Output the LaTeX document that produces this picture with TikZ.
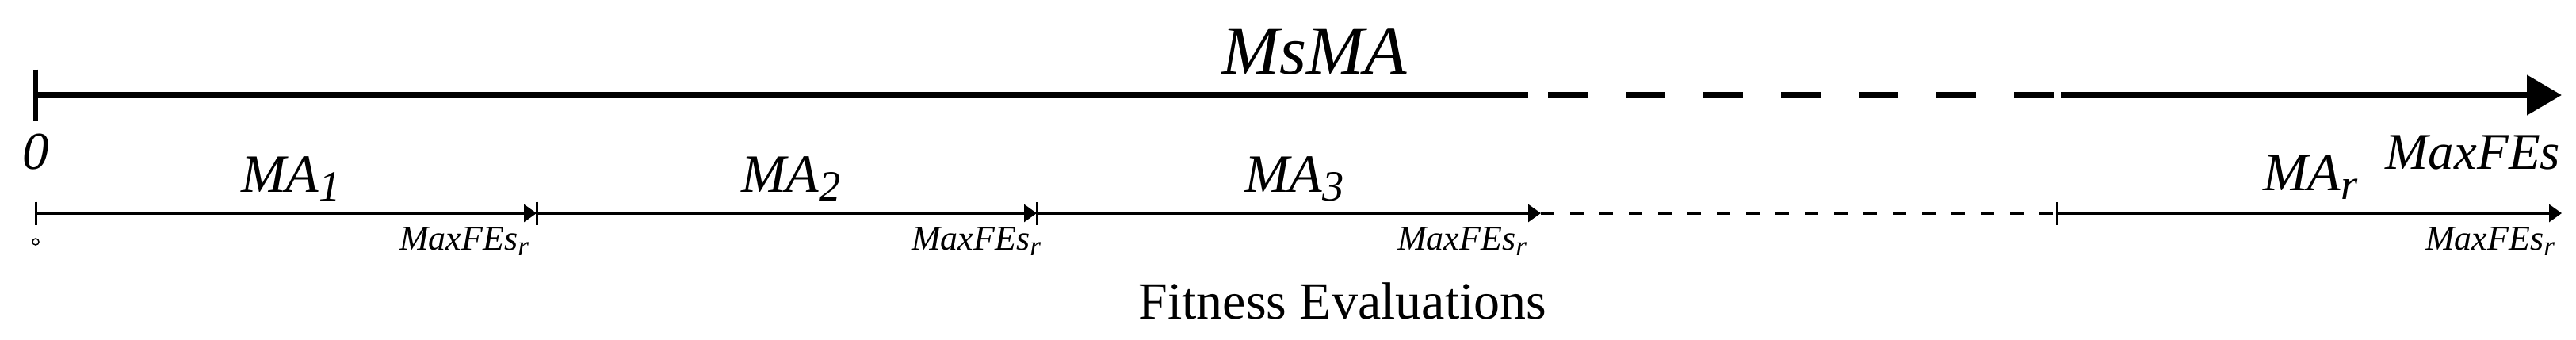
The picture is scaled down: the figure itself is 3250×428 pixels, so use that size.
\documentclass[tikz,border=0pt]{standalone}
\usepackage{fontspec}
\setmainfont{Liberation Serif}
\usetikzlibrary{arrows.meta}
\newcommand\lowsub[1]{\raisebox{-0.17em}{\scalebox{0.8}{#1}}}
\tikzset{
  bigline/.style={line width=1.6pt},
  smallline/.style={line width=0.6pt},
  bigtip/.style={-{Triangle[length=8.8pt,width=9.8pt]}},
  smalltip/.style={-{Triangle[length=3.2pt,width=4.4pt]}},
  lbl/.style={inner sep=0pt, font=\itshape},
}
\begin{document}
\begin{tikzpicture}[x=0.2pt,y=-0.2pt]
\useasboundingbox (0,0) rectangle (3250,428);
% top axis
\coordinate (t0) at (45,120);
\coordinate (t1) at (1928,120);
\coordinate (t2) at (1953,120);
\coordinate (t3) at (2591,120);
\coordinate (t4) at (2600,120);
\coordinate (t5) at (3232,120);
\draw[bigline] (t0) -- (t1);
\draw[bigline, dash pattern=on 10pt off 9.6pt] (t2) -- (t3);
\draw[bigline, bigtip] (t4) -- (t5);
\draw[line width=1.2pt] ([yshift=6.5pt]t0) -- ([yshift=-6.6pt]t0);
% bottom axis
\coordinate (b0) at (45,269);
\coordinate (b1) at (677,269);
\coordinate (b2) at (1308,269);
\coordinate (b3) at (1944,269);
\coordinate (b4) at (2595,269);
\coordinate (b5) at (3232,269);
\draw[smallline, smalltip] (b0) -- (b1);
\draw[smallline, smalltip] (b1) -- (b2);
\draw[smallline, smalltip] (b2) -- (b3);
\draw[smallline, dash pattern=on 3.4pt off 4pt] (b3) -- (b4);
\draw[smallline, smalltip] (b4) -- (b5);
\foreach \p in {b0,b1,b2,b4}
  \draw[smallline] ([yshift=2.9pt]\p) -- ([yshift=-2.9pt]\p);
\draw[line width=0.3pt] (45,305) circle (0.8pt);
% labels
\node[lbl, font=\fontsize{17.5}{20}\selectfont\itshape, anchor=base] (msma) at (1658,93) {MsMA};
\node[lbl, font=\fontsize{13.4}{16}\selectfont\itshape, anchor=base] (zero) at (45,213) {0};
\node[lbl, font=\fontsize{13}{16}\selectfont\itshape, anchor=base east] (maxfes) at (3231,213) {MaxFEs};
\node[lbl, font=\fontsize{13.6}{16}\selectfont\itshape, anchor=base west] (ma1) at (303,242) {MA\lowsub{1}};
\node[lbl, font=\fontsize{13.6}{16}\selectfont\itshape, anchor=base west] (ma2) at (934,242) {MA\lowsub{2}};
\node[lbl, font=\fontsize{13.6}{16}\selectfont\itshape, anchor=base west] (ma3) at (1569,242) {MA\lowsub{3}};
\node[lbl, font=\fontsize{13.6}{16}\selectfont\itshape, anchor=base west] (mar) at (2854,240) {MA\lowsub{r}};
\node[lbl, font=\fontsize{8.8}{10}\selectfont\itshape, anchor=base east] (m1) at (668,315) {MaxFEs\lowsub{r}};
\node[lbl, font=\fontsize{8.8}{10}\selectfont\itshape, anchor=base east] (m2) at (1314,315) {MaxFEs\lowsub{r}};
\node[lbl, font=\fontsize{8.8}{10}\selectfont\itshape, anchor=base east] (m3) at (1927,315) {MaxFEs\lowsub{r}};
\node[lbl, font=\fontsize{8.8}{10}\selectfont\itshape, anchor=base east] (mr) at (3224,315) {MaxFEs\lowsub{r}};
\node[inner sep=0pt, font=\fontsize{13.2}{16}\selectfont, anchor=base] (fe) at (1694,402) {Fitness Evaluations};
\end{tikzpicture}
\end{document}
